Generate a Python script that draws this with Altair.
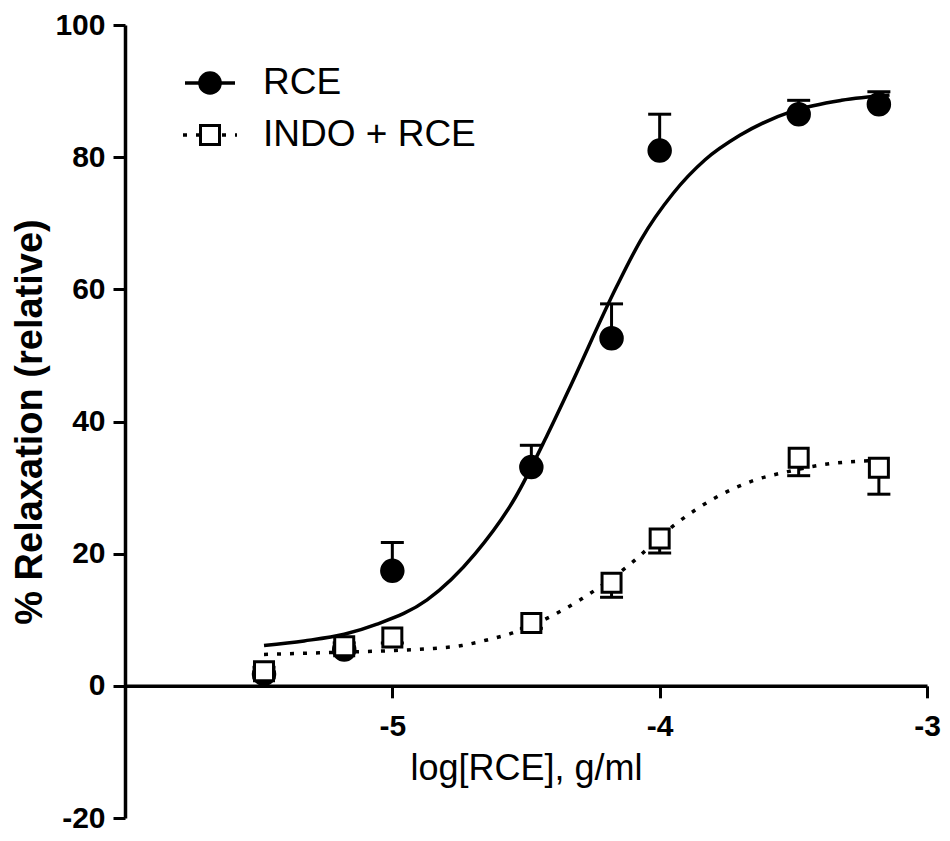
import altair as alt
import pandas as pd

# ---- data ----
series = ["RCE", "INDO + RCE"]
log_conc = [-5.48, -5.18, -5.0, -4.48, -4.18, -4.0, -3.48, -3.18]
rce_mean = [1.8, 5.5, 17.4, 33.1, 52.6, 81.0, 86.5, 88.0]
rce_err = [1.0, 1.0, 4.3, 3.3, 5.2, 5.5, 2.1, 1.9]
indo_mean = [2.2, 6.0, 7.3, 9.5, 15.6, 22.3, 34.5, 33.0]
indo_err = [1.0, 0.8, 0.8, 0.8, 2.2, 2.2, 2.7, 4.0]

# fitted curves
rce_fit_x = [-5.48, -5.33, -5.18, -5.06, -4.87, -4.69, -4.54, -4.42, -4.34,
             -4.16, -4.07, -3.95, -3.83, -3.70, -3.50, -3.32, -3.14]
rce_fit_y = [6.1, 6.8, 7.8, 9.3, 13.0, 20.0, 28.5, 38.0, 44.8,
             60.5, 67.5, 74.5, 79.6, 83.3, 87.0, 88.6, 89.4]
indo_fit_x = [-5.48, -5.23, -4.99, -4.87, -4.74, -4.65, -4.55, -4.42, -4.29,
              -4.12, -3.94, -3.79, -3.65, -3.51, -3.40, -3.25, -3.18]
indo_fit_y = [4.75, 5.05, 5.35, 5.6, 6.1, 6.9, 8.0, 10.25, 13.2,
              18.1, 24.5, 28.5, 31.05, 32.5, 33.4, 34.0, 34.1]

x_ticks = [-5, -4, -3]
y_ticks = [-20, 0, 20, 40, 60, 80, 100]

rce_df = pd.DataFrame({"x": log_conc, "mean": rce_mean,
                       "bound": [m + e for m, e in zip(rce_mean, rce_err)]})
indo_df = pd.DataFrame({"x": log_conc, "mean": indo_mean,
                        "bound": [m - e for m, e in zip(indo_mean, indo_err)]})
rce_fit = pd.DataFrame({"x": rce_fit_x, "y": rce_fit_y})
indo_fit = pd.DataFrame({"x": indo_fit_x, "y": indo_fit_y})

W, H = 802, 793
FONT = "Liberation Sans"

xscale = alt.Scale(domain=[-6, -3], nice=False, zero=False)
yscale = alt.Scale(domain=[-20, 100], nice=False)
xaxis = alt.Axis(values=x_ticks, offset=-H / 6, title="log[RCE], g/ml",
                 titleFontWeight="normal", titleFontSize=36, labelFlush=False,
                 labelPadding=14, titlePadding=10, labelExpr="'' + datum.value")
yaxis = alt.Axis(values=y_ticks, title="% Relaxation (relative)",
                 titleFontSize=38, titleFontWeight="bold", labelPadding=8,
                 titlePadding=5, labelExpr="'' + datum.value")


def X(field="x"):
    return alt.X(f"{field}:Q", scale=xscale, axis=xaxis, title="log[RCE], g/ml")


def Y(field):
    return alt.Y(f"{field}:Q", scale=yscale, axis=yaxis, title="% Relaxation (relative)")


rce_bar = alt.Chart(rce_df).mark_rule(color="black", strokeWidth=3).encode(
    x=X(), y=Y("mean"), y2="bound:Q")
rce_cap = alt.Chart(rce_df).mark_tick(color="black", orient="horizontal",
                                      thickness=3, size=23, opacity=1).encode(
    x=X(), y=Y("bound"))
indo_bar = alt.Chart(indo_df).mark_rule(color="black", strokeWidth=3).encode(
    x=X(), y=Y("mean"), y2="bound:Q")
indo_cap = alt.Chart(indo_df).mark_tick(color="black", orient="horizontal",
                                        thickness=3, size=23, opacity=1).encode(
    x=X(), y=Y("bound"))

rce_line = alt.Chart(rce_fit).mark_line(color="black", strokeWidth=3.5,
                                        interpolate="monotone").encode(
    x=X(), y=Y("y"))
indo_line = alt.Chart(indo_fit).mark_line(color="black", strokeWidth=3.5,
                                          strokeDash=[4, 9],
                                          interpolate="monotone").encode(
    x=X(), y=Y("y"))

rce_pts = alt.Chart(rce_df).mark_point(shape="circle", filled=True, color="black",
                                       size=600, opacity=1).encode(
    x=X(), y=Y("mean"))
indo_pts = alt.Chart(indo_df).mark_point(shape="square", filled=False, fill="white",
                                         fillOpacity=1, stroke="black", strokeWidth=3,
                                         size=361, opacity=1).encode(
    x=X(), y=Y("mean"))

# ---- legend (top-left, inside plot) ----
leg1 = pd.DataFrame({"label": [series[0]]})
leg2 = pd.DataFrame({"label": [series[1]]})
l1_line = alt.Chart(leg1).mark_rule(color="black", strokeWidth=3.5).encode(
    x=alt.value(60), x2=alt.value(110), y=alt.value(58))
l1_pt = alt.Chart(leg1).mark_point(shape="circle", filled=True, color="black",
                                   size=560, opacity=1).encode(
    x=alt.value(85), y=alt.value(58))
l1_txt = alt.Chart(leg1).mark_text(align="left", baseline="middle", font=FONT,
                                   fontSize=37, color="black").encode(
    x=alt.value(138), y=alt.value(58), text="label:N")
l2_line = alt.Chart(leg2).mark_rule(color="black", strokeWidth=3.5,
                                    strokeDash=[4, 9]).encode(
    x=alt.value(58), x2=alt.value(112), y=alt.value(110))
l2_pt = alt.Chart(leg2).mark_point(shape="square", filled=False, fill="white",
                                   fillOpacity=1, stroke="black", strokeWidth=3,
                                   size=361, opacity=1).encode(
    x=alt.value(85), y=alt.value(110))
l2_txt = alt.Chart(leg2).mark_text(align="left", baseline="middle", font=FONT,
                                   fontSize=37, color="black").encode(
    x=alt.value(138), y=alt.value(110), text="label:N")

chart = alt.layer(
    rce_bar, rce_cap, indo_bar, indo_cap, rce_line, indo_line, rce_pts, indo_pts,
    l1_line, l1_pt, l1_txt, l2_line, l2_pt, l2_txt
).properties(
    width=W, height=H,
    autosize=alt.AutoSizeParams(type="none"),
    padding={"left": 117, "top": 17, "right": 15, "bottom": 15},
    background="white",
).configure_view(stroke=None).configure_axis(
    grid=False, domainColor="black", domainWidth=3.5, tickColor="black",
    tickWidth=3, tickSize=12, labelFont=FONT, labelFontSize=30,
    labelFontWeight="bold", labelColor="black", titleFont=FONT,
    titleColor="black",
)

chart.save("out.html", embed_options={"renderer": "svg", "actions": False})
